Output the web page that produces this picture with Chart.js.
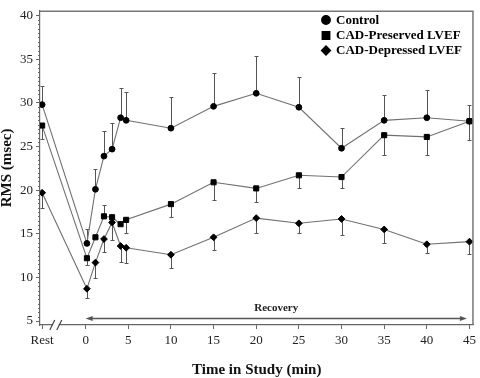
<!DOCTYPE html>
<html>
<head>
<meta charset="utf-8">
<script src="https://cdn.jsdelivr.net/npm/chart.js@4.4.0/dist/chart.umd.min.js"></script>
<style>
    html, body { margin: 0; padding: 0; background: #fff; }
    #wrap { width: 480px; height: 378px; }
</style>
</head>
<body>
<div id="wrap"><canvas id="rms_chart" width="480" height="378"></canvas></div>
<script>
// "Rest" sits left of the axis break
const REST = -5.1;

const timePoints   = [REST, 0.15, 1.15, 2.15, 3.1, 4.1, 4.75, 10, 15, 20, 25, 30, 35, 40, 45];

const controlRms   = [29.8, 13.9, 20.1, 23.9, 24.7, 28.3, 28.0, 27.1, 29.6, 31.1, 29.5, 24.8, 28.0, 28.3, 27.9];
const controlBar   = [31.9, 15.6, 22.4, 26.8, 27.7, 31.7, 31.3, 30.7, 33.4, 35.4, 33.0, 27.1, 30.9, 31.5, 29.7];

const preservedRms = [27.4, 12.2, 14.6, 17.0, 16.9, 16.1, 16.6, 18.4, 20.9, 20.2, 21.7, 21.5, 26.3, 26.1, 27.9];
const preservedBar = [25.9, 11.4, null, 18.3, null, null, 15.1, 16.9, 18.9, 18.7, 20.2, 20.3, 24.0, 24.0, 25.7];

const depressedRms = [19.7, 8.7, 11.7, 14.4, 16.3, 13.6, 13.4, 12.6, 14.6, 16.8, 16.2, 16.7, 15.5, 13.8, 14.1];
const depressedBar = [17.9, 7.7, 9.9, 12.9, 14.3, 11.8, 11.7, 11.1, 13.1, 15.1, 15.1, 14.9, 13.9, 12.8, 12.7];

const seriesNames  = ['Control', 'CAD-Preserved LVEF', 'CAD-Depressed LVEF'];

const xTickValues  = [REST, 0, 5, 10, 15, 20, 25, 30, 35, 40, 45];
const xTickLabels  = ['Rest', '0', '5', '10', '15', '20', '25', '30', '35', '40', '45'];
const yTickValues  = [5, 10, 15, 20, 25, 30, 35, 40];

const recoveryFrom = 0;
const recoveryTo   = 44.7;
const breakAt      = -3.5;

function toPoints(values) {
    return timePoints.map((t, i) => ({ x: t, y: values[i] }));
}

function fnRmsChart() {
    const lineColor = '#707070';
    const axisColor = '#666';

    const datasets = [
        { label: seriesNames[0], data: toPoints(controlRms),   bars: controlBar,   pointStyle: 'circle',  pointRadius: 2.9, legendRadius: 4.2 },
        { label: seriesNames[1], data: toPoints(preservedRms), bars: preservedBar, pointStyle: 'rect',    pointRadius: 3.6, legendRadius: 5.2 },
        { label: seriesNames[2], data: toPoints(depressedRms), bars: depressedBar, pointStyle: 'rectRot', pointRadius: 3.4, legendRadius: 4.4 }
    ].map(ds => Object.assign(ds, {
        showLine: true,
        borderColor: lineColor,
        borderWidth: 1.1,
        pointBackgroundColor: '#000',
        pointBorderColor: '#000',
        pointBorderWidth: 1,
        pointHoverRadius: ds.pointRadius
    }));

    // error bars, frame, axis break, recovery arrow, legend
    const extras = {
        id: 'extras',
        beforeDatasetsDraw(chart) {
            const ctx = chart.ctx;
            const xs = chart.scales.x, ys = chart.scales.y;
            ctx.save();
            ctx.strokeStyle = '#555';
            ctx.lineWidth = 1;
            chart.data.datasets.forEach(ds => {
                ds.bars.forEach((end, i) => {
                    if (end === null) return;
                    const px = Math.round(xs.getPixelForValue(ds.data[i].x)) + 0.5;
                    const y0 = ys.getPixelForValue(ds.data[i].y);
                    const y1 = Math.round(ys.getPixelForValue(end)) + 0.5;
                    ctx.beginPath();
                    ctx.moveTo(px, y0);
                    ctx.lineTo(px, y1);
                    ctx.moveTo(px - 2, y1);
                    ctx.lineTo(px + 2, y1);
                    ctx.stroke();
                });
            });
            ctx.restore();
        },
        afterDraw(chart) {
            const ctx = chart.ctx;
            const area = chart.chartArea;
            const xs = chart.scales.x, ys = chart.scales.y;
            ctx.save();

            // top / right frame
            ctx.strokeStyle = '#777';
            ctx.lineWidth = 1.5;
            ctx.beginPath();
            ctx.moveTo(area.left, area.top + 0.5);
            ctx.lineTo(area.right - 0.5, area.top + 0.5);
            ctx.lineTo(area.right - 0.5, area.bottom);
            ctx.stroke();

            // minor ticks on y axis
            ctx.strokeStyle = axisColor;
            ctx.lineWidth = 1;
            ctx.beginPath();
            for (let v = 5; v <= 40; v += 0.5) {
                if (v % 5 === 0) continue;
                const py = Math.round(ys.getPixelForValue(v)) + 0.5;
                ctx.moveTo(area.left - 2, py);
                ctx.lineTo(area.left, py);
            }
            ctx.stroke();

            // axis break marks
            const bx = xs.getPixelForValue(breakAt);
            const by = area.bottom;
            ctx.fillStyle = '#fff';
            ctx.fillRect(bx - 3, by - 1.5, 6, 3);
            ctx.strokeStyle = '#444';
            ctx.lineWidth = 1.2;
            ctx.beginPath();
            ctx.moveTo(bx - 6, by + 5); ctx.lineTo(bx - 1, by - 5);
            ctx.moveTo(bx + 1, by + 5); ctx.lineTo(bx + 6, by - 5);
            ctx.stroke();

            // recovery arrow
            const ay = Math.round(ys.getPixelForValue(5.3)) + 0.5;
            const ax0 = xs.getPixelForValue(recoveryFrom);
            const ax1 = xs.getPixelForValue(recoveryTo);
            ctx.strokeStyle = '#555';
            ctx.fillStyle = '#555';
            ctx.lineWidth = 1.5;
            ctx.beginPath();
            ctx.moveTo(ax0 + 4, ay);
            ctx.lineTo(ax1 - 4, ay);
            ctx.stroke();
            ctx.beginPath();
            ctx.moveTo(ax0, ay); ctx.lineTo(ax0 + 7, ay - 2.5); ctx.lineTo(ax0 + 7, ay + 2.5); ctx.closePath();
            ctx.moveTo(ax1, ay); ctx.lineTo(ax1 - 7, ay - 2.5); ctx.lineTo(ax1 - 7, ay + 2.5); ctx.closePath();
            ctx.fill();

            ctx.fillStyle = '#222';
            ctx.font = 'bold 11px "Liberation Serif", serif';
            ctx.textAlign = 'center';
            ctx.textBaseline = 'middle';
            ctx.fillText('Recovery', (ax0 + ax1) / 2, ay - 10);

            // legend
            const rows = [20, 35.5, 50.5];
            ctx.font = 'bold 13px "Liberation Serif", serif';
            ctx.textAlign = 'left';
            chart.data.datasets.forEach((ds, i) => {
                ctx.fillStyle = '#000';
                ctx.strokeStyle = '#000';
                Chart.helpers.drawPoint(ctx, {
                    pointStyle: ds.pointStyle,
                    radius: ds.legendRadius,
                    rotation: 0,
                    borderWidth: 1
                }, 326, rows[i]);
                ctx.fillText(ds.label, 336, rows[i] + 0.5);
            });

            ctx.restore();
        }
    };

    const config = {
        type: 'scatter',
        data: { datasets: datasets },
        options: {
            responsive: false,
            animation: false,
            events: [],
            layout: { padding: { top: 1, right: 3, left: 0, bottom: 0 } },
            plugins: {
                legend: { display: false },
                tooltip: { enabled: false }
            },
            scales: {
                x: {
                    type: 'linear',
                    min: -5.35,
                    max: 45.47,
                    afterBuildTicks: s => { s.ticks = xTickValues.map(v => ({ value: v })); },
                    afterFit: s => { s.height = 53; },
                    grid: { drawOnChartArea: false, drawTicks: true, tickLength: 4, color: axisColor },
                    border: { color: axisColor, width: 1.2 },
                    ticks: {
                        autoSkip: false,
                        maxRotation: 0,
                        padding: 4,
                        color: '#222',
                        font: { family: '"Liberation Serif", serif', size: 13 },
                        callback: (value, index) => xTickLabels[index]
                    },
                    title: {
                        display: true,
                        text: 'Time in Study (min)',
                        color: '#111',
                        padding: 0,
                        font: { family: '"Liberation Serif", serif', size: 15, weight: 'bold', lineHeight: 1 }
                    }
                },
                y: {
                    type: 'linear',
                    min: 4.55,
                    max: 40.55,
                    afterBuildTicks: s => { s.ticks = yTickValues.map(v => ({ value: v })); },
                    afterFit: s => { s.width = 40; },
                    grid: { drawOnChartArea: false, drawTicks: true, tickLength: 4, color: axisColor },
                    border: { color: axisColor, width: 1.2 },
                    ticks: {
                        padding: 3,
                        color: '#222',
                        font: { family: '"Liberation Serif", serif', size: 13 }
                    },
                    title: {
                        display: true,
                        text: 'RMS (msec)',
                        color: '#111',
                        padding: 0,
                        font: { family: '"Liberation Serif", serif', size: 15, weight: 'bold', lineHeight: 1 }
                    }
                }
            }
        },
        plugins: [extras]
    };

    const rmsChart = new Chart(
        document.getElementById('rms_chart'),
        config
    );
}

fnRmsChart();
</script>
</body>
</html>
